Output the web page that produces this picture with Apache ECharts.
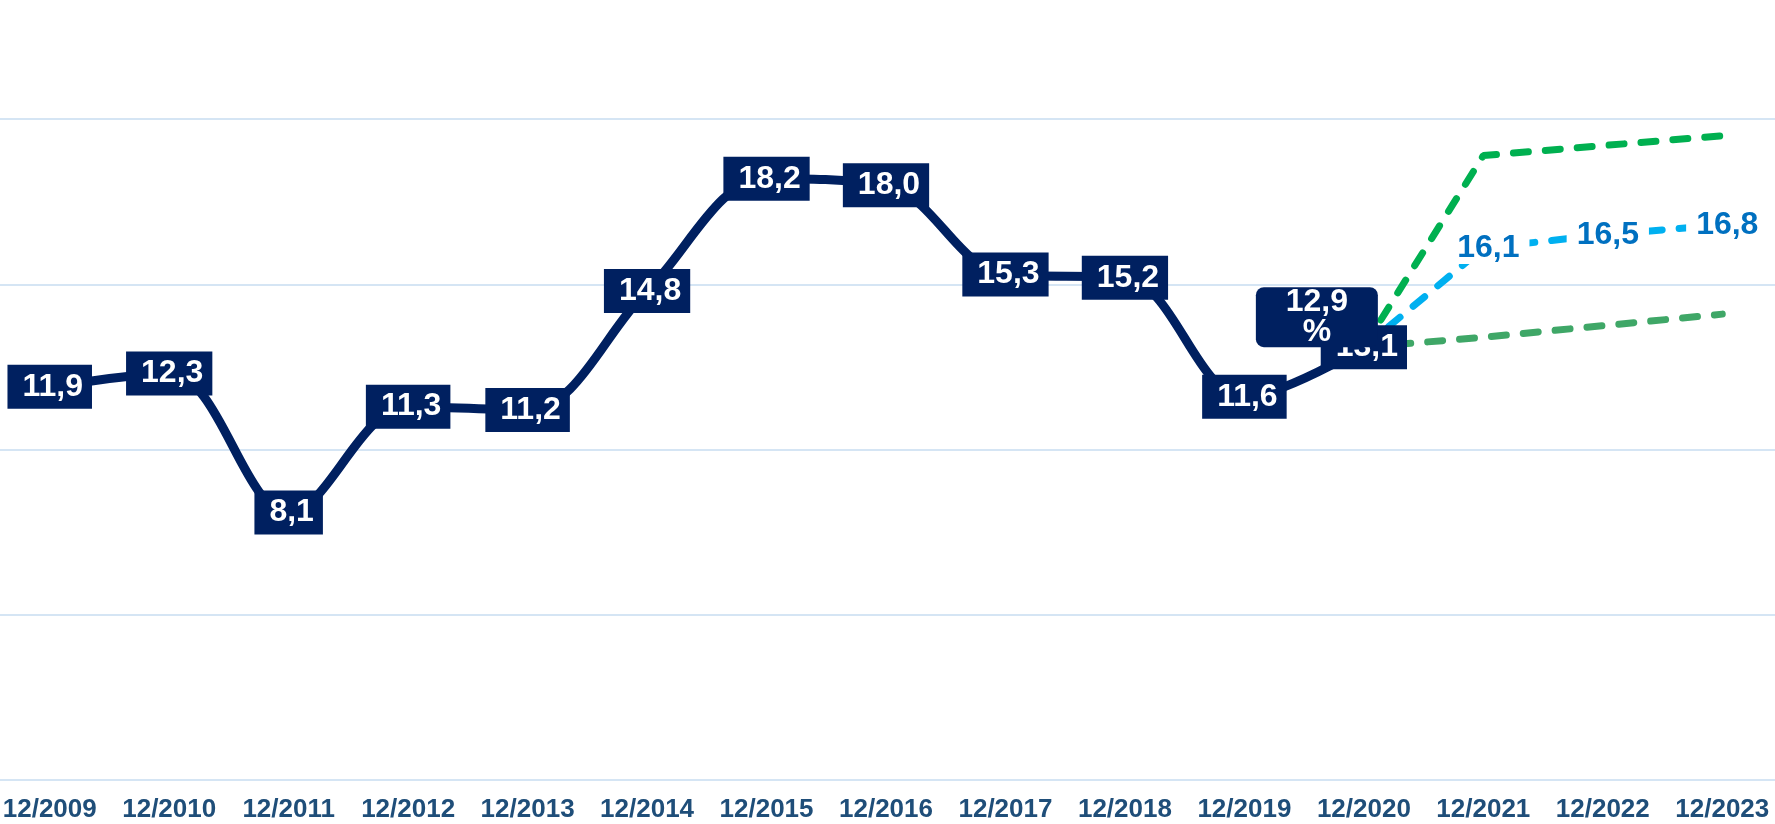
<!DOCTYPE html>
<html>
<head>
<meta charset="utf-8">
<script src="https://cdn.jsdelivr.net/npm/echarts@6/dist/echarts.min.js"></script>
<style>
  html, body { margin: 0; padding: 0; background: #fff; }
  #chart { width: 1775px; height: 824px; }
</style>
</head>
<body>
<div id="chart"></div>
<script>
var categories = ['12/2009', '12/2010', '12/2011', '12/2012', '12/2013', '12/2014', '12/2015',
  '12/2016', '12/2017', '12/2018', '12/2019', '12/2020', '12/2021', '12/2022', '12/2023'];

// historique
var actual = [11.9, 12.3, 8.1, 11.3, 11.2, 14.8, 18.2, 18.0, 15.3, 15.2, 11.6, 13.1];
// prévisions (partent du point 12/2020)
var forecast = [null, null, null, null, null, null, null, null, null, null, null, 13.1, 16.1, 16.5, 16.8];
var upperBound = [null, null, null, null, null, null, null, null, null, null, null, 13.1, 18.9, 19.2, 19.5];
var lowerBound = [null, null, null, null, null, null, null, null, null, null, null, 13.1, 13.4, 13.75, 14.1];

var note = { category: '12/2020', value: 13.1, text: '12,9\n%' };

var FONT = '"Liberation Sans", Arial, sans-serif';
var NAVY = '#002060';

function fmt(v) {
  return v.toFixed(1).replace('.', ',');
}

var forecastData = forecast.map(function (v, i) {
  if (v === null) return null;
  if (i === 11) return { value: v, label: { show: false } };
  return v;
});

var myChart = echarts.init(document.getElementById('chart'));

myChart.setOption({
  backgroundColor: '#fff',
  animation: false,
  grid: { left: -10, right: -7, top: -46, bottom: 44, outerBoundsMode: 'none' },
  xAxis: {
    type: 'category',
    data: categories,
    boundaryGap: true,
    axisLine: { show: true, lineStyle: { color: '#D5E5F4', width: 2 } },
    axisTick: { show: false },
    axisLabel: {
      interval: 0,
      margin: 17,
      color: '#1F4E79',
      fontFamily: FONT,
      fontWeight: 'bold',
      fontSize: 26
    }
  },
  yAxis: {
    type: 'value',
    min: 0,
    max: 25,
    interval: 5,
    axisLabel: { show: false },
    axisLine: { show: false },
    axisTick: { show: false },
    splitLine: { lineStyle: { color: '#D5E5F4', width: 2 } }
  },
  series: [
    {
      name: 'haut',
      type: 'line',
      data: upperBound,
      z: 2,
      symbol: 'none',
      lineStyle: { color: '#00B050', width: 7, type: [15, 17], cap: 'round' }
    },
    {
      name: 'bas',
      type: 'line',
      data: lowerBound,
      z: 2,
      symbol: 'none',
      lineStyle: { color: '#3FA767', width: 7, type: [15, 17], cap: 'round' }
    },
    {
      name: 'prévision',
      type: 'line',
      data: forecastData,
      z: 3,
      symbol: 'circle',
      symbolSize: 1,
      itemStyle: { color: '#00B0F0' },
      lineStyle: { color: '#00B0F0', width: 7, type: [15, 17], cap: 'round' },
      label: {
        show: true,
        position: 'inside',
        offset: [5, 0],
        formatter: function (p) { return fmt(p.value); },
        color: '#0070C0',
        fontFamily: FONT,
        fontWeight: 'bold',
        fontSize: 32,
        backgroundColor: '#fff',
        padding: [0, 10]
      }
    },
    {
      name: 'réel',
      type: 'line',
      data: actual,
      z: 4,
      smooth: 0.35,
      symbol: 'circle',
      symbolSize: 1,
      itemStyle: { color: NAVY },
      lineStyle: { color: NAVY, width: 9 },
      label: {
        show: true,
        position: 'inside',
        formatter: function (p) { return fmt(p.value); },
        color: '#fff',
        fontFamily: FONT,
        fontWeight: 'bold',
        fontSize: 32,
        backgroundColor: NAVY,
        padding: [6, 9, 6, 15]
      },
      markPoint: {
        z: 6,
        symbol: 'circle',
        symbolSize: 0,
        data: [{ coord: [note.category, note.value], value: note.text }],
        label: {
          show: true,
          position: 'inside',
          offset: [-47, -30],
          formatter: function (p) { return p.value; },
          color: '#fff',
          fontFamily: FONT,
          fontWeight: 'bold',
          fontSize: 32,
          lineHeight: 30,
          width: 122,
          align: 'center',
          backgroundColor: NAVY,
          borderRadius: 8,
          padding: 0
        }
      }
    }
  ]
});
</script>
</body>
</html>
